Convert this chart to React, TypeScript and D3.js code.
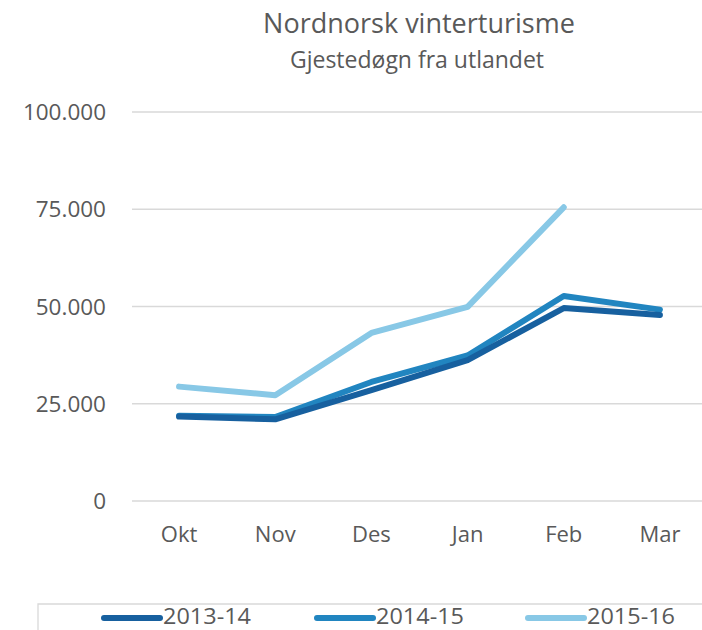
import React, { useEffect, useRef } from 'react';
import * as d3 from 'd3';

const months = ['Okt', 'Nov', 'Des', 'Jan', 'Feb', 'Mar'];
const series1314 = [21700, 21000, 28500, 36200, 49600, 47800];
const series1415 = [21900, 21600, 30600, 37400, 52700, 49200];
const series1516 = [29400, 27200, 43200, 49900, 75500, null];
const yTicks = [0, 25000, 50000, 75000, 100000];
const seriesNames = ['2013-14', '2014-15', '2015-16'];
const seriesColors = ['#17609f', '#2185c0', '#88c8e6'];

const App = () => {
  const ref = useRef<SVGSVGElement>(null);

  useEffect(() => {
    const svg = d3.select(ref.current);
    svg.selectAll('*').remove();
    const font = '"Open Sans", sans-serif';
    const textColor = '#595959';

    const x = d3.scaleBand<string>().domain(months).range([131, 708]);
    const y = d3.scaleLinear().domain([0, 100000]).range([501, 112]);
    const fmt = d3.formatLocale({ decimal: ',', thousands: '.', grouping: [3], currency: ['', ''] }).format(',');

    // title
    svg.append('text')
      .attr('x', 419).attr('y', 33)
      .attr('text-anchor', 'middle')
      .attr('font-family', font).attr('font-size', 27)
      .attr('fill', textColor)
      .text('Nordnorsk vinterturisme');
    svg.append('text')
      .attr('x', 417).attr('y', 68)
      .attr('text-anchor', 'middle')
      .attr('font-family', font).attr('font-size', 23)
      .attr('fill', textColor)
      .text('Gjestedøgn fra utlandet');

    // grid + y labels
    const grid = svg.append('g');
    grid.selectAll('line').data(yTicks).enter().append('line')
      .attr('x1', 132).attr('x2', 702)
      .attr('y1', d => y(d)).attr('y2', d => y(d))
      .attr('stroke', '#d9d9d9').attr('stroke-width', 1.3);
    grid.selectAll('text').data(yTicks).enter().append('text')
      .attr('x', 106).attr('y', d => y(d))
      .attr('dy', '0.36em')
      .attr('text-anchor', 'end')
      .attr('font-family', font).attr('font-size', 22.5)
      .attr('fill', textColor)
      .text(d => fmt(d));

    // x labels
    svg.append('g').selectAll('text').data(months).enter().append('text')
      .attr('x', d => (x(d) as number) + x.bandwidth() / 2)
      .attr('y', 542)
      .attr('text-anchor', 'middle')
      .attr('font-family', font).attr('font-size', 22)
      .attr('fill', textColor)
      .text(d => d);

    const line = d3.line<number | null>()
      .defined(d => d != null)
      .x((_, i) => (x(months[i]) as number) + x.bandwidth() / 2)
      .y(d => y(d as number));

    const all = [series1314, series1415, series1516];
    for (let i = all.length - 1; i >= 0; i--) {
      svg.append('path')
        .datum(all[i])
        .attr('d', line)
        .attr('fill', 'none')
        .attr('stroke', seriesColors[i])
        .attr('stroke-width', 6)
        .attr('stroke-linecap', 'round')
        .attr('stroke-linejoin', 'round');
    }

    // legend
    svg.append('path')
      .attr('d', 'M38,630V604H702')
      .attr('fill', 'none')
      .attr('stroke', '#d9d9d9')
      .attr('stroke-width', 1.3);
    const legendX = [104, 317, 528];
    const lg = svg.append('g').selectAll('g').data(seriesNames).enter().append('g')
      .attr('transform', (_, i) => `translate(${legendX[i]},0)`);
    lg.append('line')
      .attr('x1', 0).attr('x2', 56)
      .attr('y1', 618).attr('y2', 618)
      .attr('stroke', (_, i) => seriesColors[i])
      .attr('stroke-width', 6)
      .attr('stroke-linecap', 'round');
    lg.append('text')
      .attr('x', 59).attr('y', 624)
      .attr('font-family', font).attr('font-size', 21)
      .attr('textLength', 88)
      .attr('lengthAdjust', 'spacingAndGlyphs')
      .attr('fill', textColor)
      .text(d => d);
  }, []);

  return (
    <svg ref={ref} width={702} height={630}
      style={{ position: 'absolute', left: 0, top: 0, background: '#fff' }} />
  );
};

export default App;
